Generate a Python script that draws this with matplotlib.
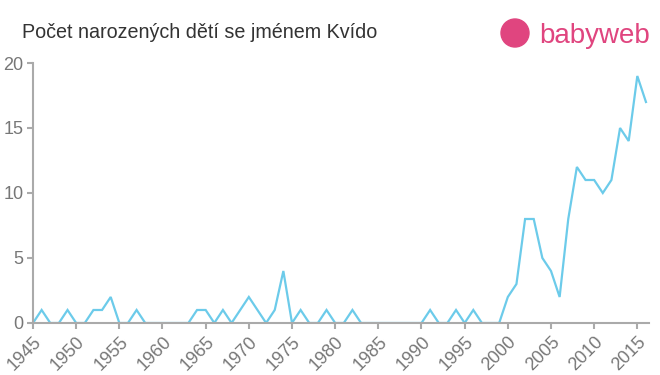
import matplotlib.pyplot as plt
from matplotlib.patches import Circle

years = list(range(1945, 2017))
counts = [0, 1, 0, 0, 1, 0, 0, 1, 1, 2,
          0, 0, 1, 0, 0, 0, 0, 0, 0, 1,
          1, 0, 1, 0, 1, 2, 1, 0, 1, 4,
          0, 1, 0, 0, 1, 0, 0, 1, 0, 0,
          0, 0, 0, 0, 0, 0, 1, 0, 0, 1,
          0, 1, 0, 0, 0, 2, 3, 8, 8, 5,
          4, 2, 8, 12, 11, 11, 10, 11, 15, 14,
          19, 17]
xticks = list(range(1945, 2020, 5))
yticks = [0, 5, 10, 15, 20]

plt.rcParams['font.family'] = ['Liberation Sans', 'DejaVu Sans']

grey = '#aaaaaa'
fig = plt.figure(figsize=(6.6, 3.75), dpi=100)
ax = fig.add_axes([0.05, 0.1387, 0.9333, 0.6933])
ax.plot(years, counts, color='#6ccbea', linewidth=1.6, solid_joinstyle='miter')
ax.set_xlim(1945, 2016.35)
ax.set_ylim(0, 20)
ax.set_xticks(xticks)
ax.set_yticks(yticks)
ax.set_xticklabels([str(x) for x in xticks], rotation=45, ha='right', rotation_mode='anchor')
for s in ['top', 'right']:
    ax.spines[s].set_visible(False)
for s in ['left', 'bottom']:
    ax.spines[s].set_color(grey)
    ax.spines[s].set_linewidth(1.5)
ax.tick_params(colors=grey, length=4, width=1.5, labelcolor='#777777', labelsize=13)
ax.tick_params(axis='y', pad=3)

fig.text(0.033, 0.914, 'Počet narozených dětí se jménem Kvído', fontsize=14.2, color='#333333', va='center')

# logo
pink = '#e0457f'
fig.patches.append(Circle((515, 375 - 33), 14, transform=None, color=pink))
fig.text(0.817, 0.903, 'babyweb', fontsize=20, color=pink, va='center')

fig.savefig('out.png', dpi=100)
